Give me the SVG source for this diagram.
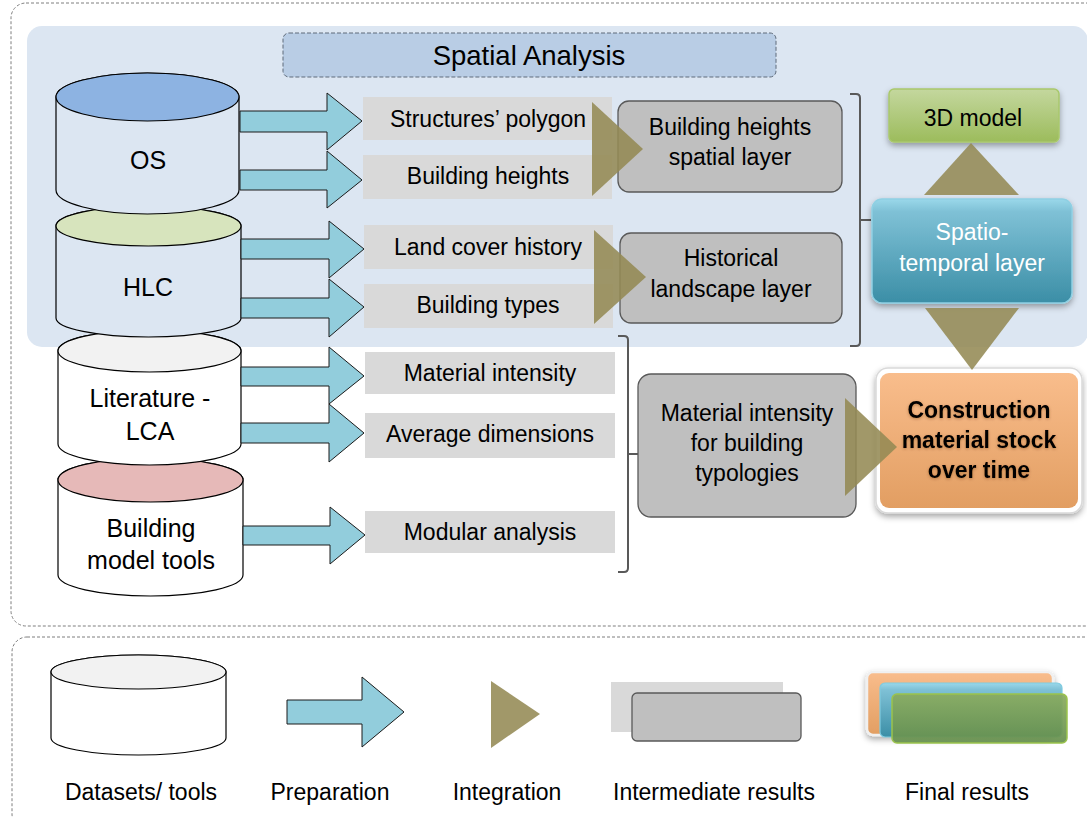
<svg xmlns="http://www.w3.org/2000/svg" width="1087" height="817" viewBox="0 0 1087 817">
<style>
text{font-family:"Liberation Sans",Arial,sans-serif;fill:#000;text-anchor:middle}
.lbl{font-size:23px}
.cl{font-size:25px}
.bold{font-weight:bold}
.wt{fill:#fff}
.cyl{stroke:#000;stroke-width:1.2}
.arr{fill:#92cddc;stroke:#1a1a1a;stroke-width:1}
.prep{fill:#d9d9d9}
.inter{fill:#bfbfbf;stroke:#595959;stroke-width:1.3}
.tri{fill:#948a54;fill-opacity:0.88}
.brk{fill:none;stroke:#595959;stroke-width:2}
.dash{fill:none;stroke:#7f7f7f;stroke-width:1;stroke-dasharray:3 2}
</style>
<defs>
<linearGradient id="gGreen" x1="0" y1="0" x2="0" y2="1">
<stop offset="0" stop-color="#c4d79e"/><stop offset="1" stop-color="#9cbc5c"/>
</linearGradient>
<linearGradient id="gBlue" x1="0" y1="0" x2="0" y2="1">
<stop offset="0" stop-color="#9ad8ea"/><stop offset="0.12" stop-color="#7fc1d6"/><stop offset="1" stop-color="#3b8ea6"/>
</linearGradient>
<linearGradient id="gOrange" x1="0" y1="0" x2="0" y2="1">
<stop offset="0" stop-color="#f9bd8c"/><stop offset="1" stop-color="#e29e62"/>
</linearGradient>
<linearGradient id="gGreenL" x1="0" y1="0" x2="0" y2="1">
<stop offset="0" stop-color="#8aab5e"/><stop offset="1" stop-color="#66904e"/>
</linearGradient>
<filter id="sh" x="-10%" y="-10%" width="120%" height="130%">
<feDropShadow dx="0" dy="3" stdDeviation="3" flood-color="#000" flood-opacity="0.35"/>
</filter>
<filter id="tsh" x="-10%" y="-20%" width="120%" height="140%">
<feDropShadow dx="0" dy="1" stdDeviation="1.5" flood-color="#5a3000" flood-opacity="0.4"/>
</filter>
</defs>

<g id="frame">
<rect x="11" y="3" width="1090" height="623" rx="15" class="dash"/>
<rect x="27" y="26" width="1061" height="321" rx="15" fill="#dce6f2"/>
<rect x="12" y="637" width="1090" height="192" rx="15" class="dash"/>
</g>

<g id="spatial-analysis">
<rect x="283" y="33" width="493" height="44" rx="6" fill="#b9cde5" stroke="#5f6b7a" stroke-width="1" stroke-dasharray="4 2"/>
<text x="529" y="65" style="font-size:27.5px">Spatial Analysis</text>
</g>

<g id="building-model-tools">
<path class="cyl" fill="#fff" d="M58,480 A92.5,22 0 0 1 243,480 V575 A92.5,21 0 0 1 58,575 Z"/>
<ellipse class="cyl" cx="150.5" cy="480" rx="92.5" ry="22" fill="#e6b9b8"/>
<text class="cl" x="151" y="537">Building</text>
<text class="cl" x="151" y="569">model tools</text>
</g>
<g id="literature-lca">
<path class="cyl" fill="#fff" d="M58,351 A91.5,21 0 0 1 241,351 V444 A91.5,21 0 0 1 58,444 Z"/>
<ellipse class="cyl" cx="149.5" cy="351" rx="91.5" ry="21" fill="#f2f2f2"/>
<text class="cl" x="150" y="407">Literature -</text>
<text class="cl" x="150" y="440">LCA</text>
</g>
<g id="hlc">
<path class="cyl" fill="#dce6f2" d="M56,226 A92.5,20 0 0 1 241,226 V318 A92.5,19 0 0 1 56,318 Z"/>
<ellipse class="cyl" cx="148.5" cy="226" rx="92.5" ry="20" fill="#d7e4bd"/>
<text class="cl" x="148" y="296">HLC</text>
</g>
<g id="os">
<path class="cyl" fill="#dce6f2" d="M56,97 A91.5,24 0 0 1 239,97 V190 A91.5,24 0 0 1 56,190 Z"/>
<ellipse class="cyl" cx="147.5" cy="97" rx="91.5" ry="24" fill="#8db3e2"/>
<text class="cl" x="148" y="169">OS</text>
</g>

<g id="connectors">
<path class="arr" d="M240,111 H327 V93 L362,121 L327,150 V132 H240 Z"/>
<path class="arr" d="M240,170 H327 V151 L362,180 L327,208 V190 H240 Z"/>
<path class="arr" d="M241,239 H329 V221 L364,249 L329,278 V259 H241 Z"/>
<path class="arr" d="M241,298 H329 V279 L364,307 L329,337 V318 H241 Z"/>
<path class="arr" d="M241,367 H329 V347 L364,376 L329,404 V386 H241 Z"/>
<path class="arr" d="M241,423 H329 V404 L364,433 L329,462 V443 H241 Z"/>
<path class="arr" d="M243,526 H330 V507 L365,535 L330,564 V545 H243 Z"/>
</g>

<g id="prep-structures"><rect class="prep" x="363" y="97" width="249" height="43"/><text class="lbl" x="488" y="127">Structures’ polygon</text></g>
<g id="prep-heights"><rect class="prep" x="363" y="155" width="249" height="44"/><text class="lbl" x="488" y="184">Building heights</text></g>
<g id="prep-landcover"><rect class="prep" x="364" y="225" width="249" height="44"/><text class="lbl" x="488" y="255">Land cover history</text></g>
<g id="prep-types"><rect class="prep" x="364" y="284" width="249" height="44"/><text class="lbl" x="488" y="313">Building types</text></g>
<g id="prep-intensity"><rect class="prep" x="365" y="352" width="250" height="42"/><text class="lbl" x="490" y="381">Material intensity</text></g>
<g id="prep-dimensions"><rect class="prep" x="365" y="413" width="250" height="45"/><text class="lbl" x="490" y="442">Average dimensions</text></g>
<g id="prep-modular"><rect class="prep" x="365" y="511" width="250" height="42"/><text class="lbl" x="490" y="540">Modular analysis</text></g>

<g id="inter-heights"><rect class="inter" x="618" y="101" width="224" height="91" rx="11"/><text class="lbl" x="730" y="135">Building heights</text><text class="lbl" x="730" y="165">spatial layer</text></g>
<g id="inter-historical"><rect class="inter" x="620" y="233" width="222" height="90" rx="11"/><text class="lbl" x="731" y="266">Historical</text><text class="lbl" x="731" y="297">landscape layer</text></g>
<g id="inter-intensity"><rect class="inter" x="638" y="374" width="218" height="143" rx="13"/><text class="lbl" x="747" y="421">Material intensity</text><text class="lbl" x="747" y="451">for building</text><text class="lbl" x="747" y="481">typologies</text></g>

<g id="brackets">
<path class="brk" d="M850,94 H856 Q860,94 860,98 V342 Q860,346 856,346 H850 M860,220 H871"/>
<path class="brk" d="M618,336 H624 Q628,336 628,340 V568 Q628,572 624,572 H618 M628,454 H638"/>
</g>

<g id="model-3d"><rect x="889" y="89" width="170" height="53" rx="5" fill="url(#gGreen)" stroke="#a9c86c" stroke-width="1.5" filter="url(#sh)"/><text class="lbl" x="973" y="126">3D model</text></g>
<g id="spatio-temporal"><rect x="872" y="199" width="200" height="104" rx="10" fill="url(#gBlue)" stroke="#8fd0e3" stroke-width="1.5" filter="url(#sh)"/><text class="lbl wt" x="972" y="240">Spatio-</text><text class="lbl wt" x="972" y="271">temporal layer</text></g>
<g id="construction-stock"><rect x="876" y="368" width="206" height="145" rx="12" fill="#fff" stroke="#d9d9d9" stroke-width="1.5" filter="url(#sh)"/><rect x="880" y="373" width="198" height="135" rx="9" fill="url(#gOrange)"/><g filter="url(#tsh)"><text class="lbl bold" x="979" y="418">Construction</text><text class="lbl bold" x="979" y="448">material stock</text><text class="lbl bold" x="979" y="478">over time</text></g></g>

<g id="integration-arrows">
<polygon class="tri" points="592,102 643,149 592,196"/>
<polygon class="tri" points="594,230 646,277 594,324"/>
<polygon class="tri" points="845,398 897,447 845,496"/>
<polygon class="tri" points="924,195 971,143 1019,195"/>
<polygon class="tri" points="925,308 1019,308 972,370"/>
</g>

<g id="legend">
<path class="cyl" fill="#fff" d="M51,672 A87.5,17 0 0 1 226,672 V738 A87.5,17 0 0 1 51,738 Z"/>
<ellipse class="cyl" cx="138.5" cy="672" rx="87.5" ry="17" fill="#f2f2f2"/>
<path class="arr" d="M287,700 H362 V677 L404,712 L362,747 V724 H287 Z"/>
<polygon class="tri" points="491,681 540,714 491,748"/>
<rect class="prep" x="611" y="682" width="172" height="50"/>
<rect class="inter" x="632" y="693" width="169" height="48" rx="5"/>
<rect x="867" y="672" width="186" height="63" rx="6" fill="url(#gOrange)" stroke="#f0f0f0" stroke-width="2.5" filter="url(#sh)"/>
<rect x="880" y="683" width="182" height="54" rx="5" fill="url(#gBlue)" stroke="#7fcbe0" stroke-width="1.2"/>
<rect x="892" y="694" width="175" height="49" rx="5" fill="url(#gGreenL)" fill-opacity="0.93" stroke="#9bc34c" stroke-width="1.5"/>
<text class="lbl" x="141" y="800">Datasets/ tools</text>
<text class="lbl" x="330" y="800">Preparation</text>
<text class="lbl" x="507" y="800">Integration</text>
<text class="lbl" x="714" y="800">Intermediate results</text>
<text class="lbl" x="967" y="800">Final results</text>
</g>
</svg>
